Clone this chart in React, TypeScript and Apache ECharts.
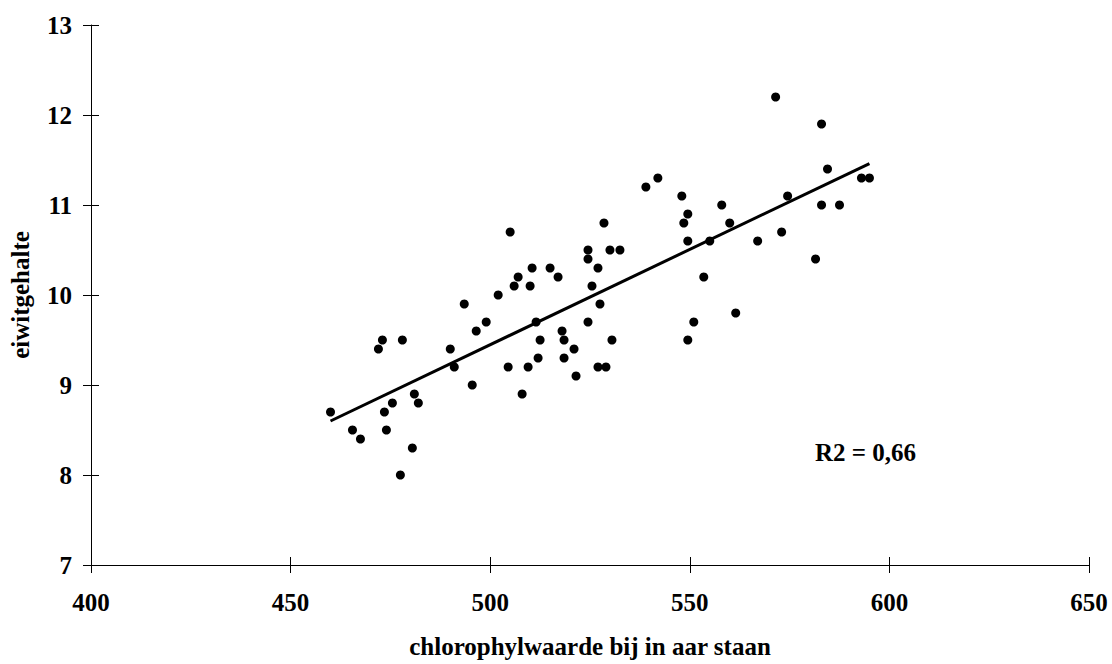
import React, { useEffect, useRef } from "react";
import * as echarts from "echarts";

const chlorophyll = [
  460, 465.5, 467.5, 472, 473, 478, 473.5, 475.5, 474, 480.5, 477.5, 481, 482, 490, 491, 495.5,
  493.5, 496.5, 499, 502, 506, 507, 504.5, 508,
  528.5, 505, 524.5, 530, 532.5, 524.5, 510.5, 515, 527, 517, 510, 525.5, 527.5, 511.5, 524.5,
  518, 512.5, 518.5, 530.5, 521, 512, 518.5, 509.5, 527, 529, 521.5,
  539, 542, 548, 549.5, 548.5, 558, 560, 549.5, 555, 567, 573, 574.5, 553.5, 561.5, 551, 549.5,
  583, 571.5, 584.5, 593, 595, 583, 587.5, 581.5,
];
const protein = [
  8.7, 8.5, 8.4, 9.4, 9.5, 9.5, 8.7, 8.8, 8.5, 8.3, 8.0, 8.9, 8.8, 9.4, 9.2, 9.0,
  9.9, 9.6, 9.7, 10.0, 10.1, 10.2, 9.2, 8.9,
  10.8, 10.7, 10.5, 10.5, 10.5, 10.4, 10.3, 10.3, 10.3, 10.2, 10.1, 10.1, 9.9, 9.7, 9.7,
  9.6, 9.5, 9.5, 9.5, 9.4, 9.3, 9.3, 9.2, 9.2, 9.2, 9.1,
  11.2, 11.3, 11.1, 10.9, 10.8, 11.0, 10.8, 10.6, 10.6, 10.6, 10.7, 11.1, 10.2, 9.8, 9.7, 9.5,
  11.9, 12.2, 11.4, 11.3, 11.3, 11.0, 11.0, 10.4,
];
const trendX = [460, 595];
const trendY = [8.6, 11.46];
const xRange = { min: 400, max: 650, interval: 50 };
const yRange = { min: 7, max: 13, interval: 1 };
const xTitle = "chlorophylwaarde bij in aar staan";
const yTitle = "eiwitgehalte";
const r2Label = "R2 = 0,66";

const FONT = "'Liberation Serif', 'Times New Roman', serif";

export default function App() {
  const ref = useRef<HTMLDivElement>(null);
  useEffect(() => {
    if (!ref.current) return;
    const chart = echarts.init(ref.current, undefined, { renderer: "svg" });
    const textStyle = { fontFamily: FONT, fontWeight: "bold" as const, fontSize: 25, color: "#000" };
    const lineStyle = { color: "#000", width: 1 };
    chart.setOption({
      animation: false,
      backgroundColor: "#fff",
      grid: { left: 89, right: 23, top: 25, bottom: 92, containLabel: false },
      xAxis: [
        {
          type: "value",
          ...xRange,
          position: "bottom",
          axisLine: { show: true, lineStyle },
          axisTick: { show: true, inside: false, length: 8, lineStyle },
          axisLabel: { ...textStyle, margin: 25 },
          splitLine: { show: false },
          name: xTitle,
          nameLocation: "middle",
          nameGap: 69,
          nameTextStyle: textStyle,
        },
        {
          type: "value",
          ...xRange,
          position: "bottom",
          axisLine: { show: false },
          axisTick: { show: true, inside: true, length: 8, lineStyle },
          axisLabel: { show: false },
          splitLine: { show: false },
        },
      ],
      yAxis: [
        {
          type: "value",
          ...yRange,
          position: "left",
          axisLine: { show: true, lineStyle },
          axisTick: { show: true, inside: false, length: 8, lineStyle },
          axisLabel: { ...textStyle, margin: 19 },
          splitLine: { show: false },
          name: yTitle,
          nameLocation: "middle",
          nameGap: 58,
          nameTextStyle: textStyle,
        },
        {
          type: "value",
          ...yRange,
          position: "left",
          axisLine: { show: false },
          axisTick: { show: true, inside: true, length: 8, lineStyle },
          axisLabel: { show: false },
          splitLine: { show: false },
        },
      ],
      graphic: [
        {
          type: "text",
          left: 815,
          top: 440,
          style: { text: r2Label, font: `bold 25px ${FONT}`, fill: "#000" },
        },
      ],
      series: [
        {
          type: "scatter",
          data: chlorophyll.map((x, i) => [x, protein[i]]),
          symbol: "circle",
          symbolSize: 9,
          itemStyle: { color: "#000", opacity: 1 },
          z: 3,
        },
        {
          type: "line",
          data: trendX.map((x, i) => [x, trendY[i]]),
          symbol: "none",
          lineStyle: { color: "#000", width: 3 },
          z: 2,
        },
      ],
    });
    return () => chart.dispose();
  }, []);
  return (
    <div
      ref={ref}
      style={{ position: "fixed", left: 0, top: 0, width: 1112, height: 664, background: "#fff" }}
    />
  );
}
